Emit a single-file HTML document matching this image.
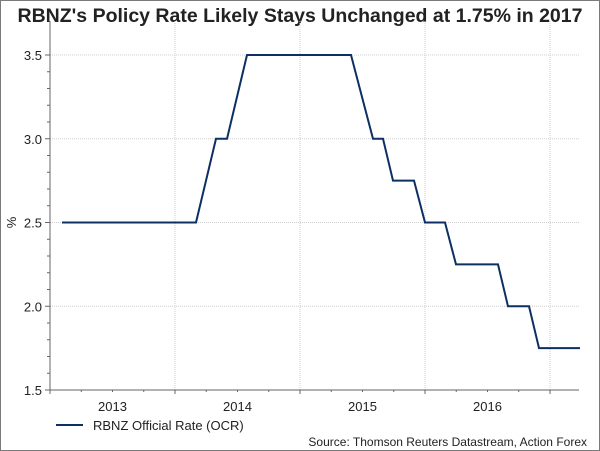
<!DOCTYPE html>
<html><head><meta charset="utf-8"><style>
body{margin:0;background:#fff;}
#wrap{position:relative;width:598px;height:449px;border:1px solid #7a7a7a;background:#fff;font-family:"Liberation Sans",Arial,sans-serif;}
#title{position:absolute;left:0;top:4px;width:598px;text-align:center;font-weight:bold;font-size:19.5px;color:#222;white-space:nowrap;}
svg{position:absolute;left:0;top:0;}
</style></head><body>
<div id="wrap">
<div id="title">RBNZ's Policy Rate Likely Stays Unchanged at 1.75% in 2017</div>
<svg id="chart" width="598" height="449"></svg>
</div>
<script>
const dates=[2013.096,2014.168,2014.328,2014.416,2014.576,2015.408,2015.584,2015.664,2015.744,2015.912,2016.0,2016.16,2016.248,2016.584,2016.664,2016.832,2016.912,2017.24];
const rates=[2.5,2.5,3.0,3.0,3.5,3.5,3.0,3.0,2.75,2.75,2.5,2.5,2.25,2.25,2.0,2.0,1.75,1.75];
const yTicks=[1.5,2.0,2.5,3.0,3.5];
const yearLabels=["2013","2014","2015","2016"];
const yearStarts=[2013,2014,2015,2016,2017];
const seriesName="RBNZ Official Rate (OCR)";

const NS="http://www.w3.org/2000/svg";
const svg=document.getElementById('chart');
const L=49,R=578,T=20,B=389;
const x=t=>49+(t-2013)*125;
const y=v=>389-(v-1.5)*167.5;
function el(tag,attrs,txt){const e=document.createElementNS(NS,tag);for(const k in attrs)e.setAttribute(k,attrs[k]);if(txt!==undefined)e.textContent=txt;svg.appendChild(e);return e;}

yTicks.forEach(v=>{
  if(v>1.5){const g=el('line',{x1:L,x2:R,y1:y(v),y2:y(v),stroke:'#cfcfcf','stroke-dasharray':'1,1'});
  
  }
  const t=el('text',{x:L-8,y:y(v)+5,'text-anchor':'end','font-size':'13',fill:'#222','font-family':'Liberation Sans, sans-serif'},v.toFixed(1));
  
  
});
yearStarts.forEach(yr=>{
  if(yr>2013){const g=el('line',{x1:x(yr),x2:x(yr),y1:T,y2:B,stroke:'#cfcfcf','stroke-dasharray':'1,1'});
  
  }
});
const ax=el('line',{x1:L,x2:L,y1:T,y2:B,stroke:'#666'});


const axx=el('line',{x1:L,x2:R,y1:B,y2:B,stroke:'#666'});


for(let v=1.5;v<=3.55;v+=0.1){el('line',{x1:L-(Math.abs(v*2-Math.round(v*2))<0.01?5:3),x2:L,y1:y(v),y2:y(v),stroke:'#666'});}
for(let t=2013;t<=2017.2;t+=0.25){const major=Math.abs(t-Math.round(t))<0.01;el('line',{x1:x(t),x2:x(t),y1:B,y2:B+(major?4:2),stroke:'#666'});}
yearLabels.forEach((lab,i)=>{
  const t=el('text',{x:x(yearStarts[i]+0.5),y:B+21,'text-anchor':'middle','font-size':'13',fill:'#222','font-family':'Liberation Sans, sans-serif'},lab);
  
  
});
const yl=el('text',{x:0,y:0,'font-size':'13',fill:'#222','text-anchor':'middle',transform:'translate(15,'+y(2.5)+') rotate(-90)','font-family':'Liberation Sans, sans-serif'},'%');


const pts=dates.map((d,i)=>x(d).toFixed(1)+','+y(rates[i]).toFixed(1)).join(' ');
const line=el('polyline',{points:pts,fill:'none',stroke:'#0d2f63','stroke-width':'2'});


const lg=el('line',{x1:55,x2:82,y1:424,y2:424,stroke:'#0d2f63','stroke-width':'2'});


const lt=el('text',{x:92,y:429,'font-size':'13',fill:'#222','font-family':'Liberation Sans, sans-serif'},seriesName);


const src=el('text',{x:586,y:445,'text-anchor':'end','font-size':'12',fill:'#222','font-family':'Liberation Sans, sans-serif'},'Source: Thomson Reuters Datastream, Action Forex');


</script>
</body></html>
